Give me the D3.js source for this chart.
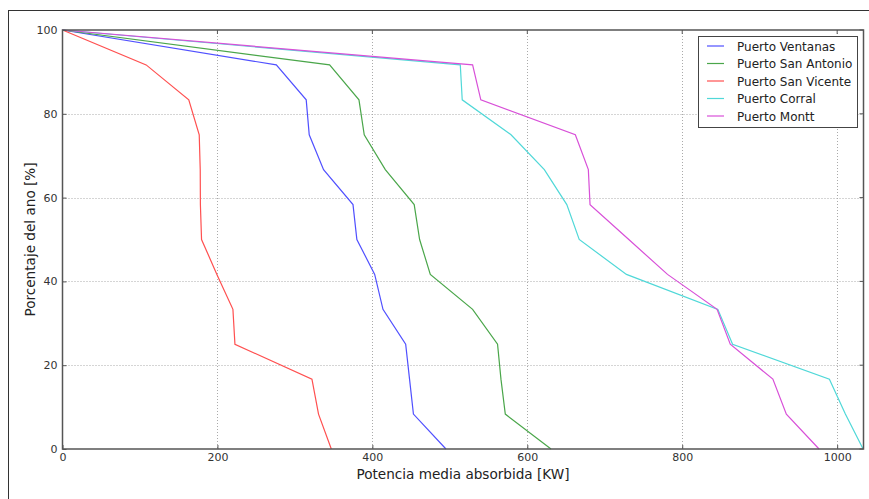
<!DOCTYPE html>
<html><head><meta charset="utf-8">
<script src="https://cdn.jsdelivr.net/npm/d3@7"></script>
<style>body{margin:0;background:#fff;}svg{display:block;font-family:"DejaVu Sans",sans-serif;}</style>
</head><body>
<svg id="chart" width="869" height="499"></svg>
<script>
const yLevels = [100, 91.67, 83.33, 75, 66.67, 58.33, 50, 41.67, 33.33, 25, 16.67, 8.33, 0];
const seriesNames = ["Puerto Ventanas", "Puerto San Antonio", "Puerto San Vicente", "Puerto Corral", "Puerto Montt"];
const ventanas   = [0, 276, 314.6, 318.5, 337, 375, 380, 403, 413.7, 443, 448, 453, 495];
const sanAntonio = [0, 344.8, 382.7, 389.5, 416.7, 454, 461, 474.8, 529.4, 561.6, 566, 571.6, 630.6];
const sanVicente = [0, 108, 163, 176.5, 177.8, 178, 179.5, 199.3, 220, 222.6, 322, 330.5, 347];
const corral     = [0, 513.5, 516, 579, 622, 651, 667, 728, 846, 865, 990, 1010.6, 1033.5];
const montt      = [0, 529.4, 540, 662, 678.8, 681, 731, 781, 845, 862, 917, 934.4, 976.6];
const seriesValues = [ventanas, sanAntonio, sanVicente, corral, montt];
const colors = ["#5050ff", "#4aa64a", "#ff5050", "#50d8d8", "#d850d8"];
const xTicks = [0, 200, 400, 600, 800, 1000];
const yTicks = [0, 20, 40, 60, 80, 100];

const svg = d3.select("#chart");
// outer frame
svg.append("rect").attr("x", 8.5).attr("y", 10.5).attr("width", 880).attr("height", 520)
  .attr("fill", "none").attr("stroke", "#333").attr("stroke-width", 1);

const L = 62.5, R = 863.5, T = 30, B = 449;
const x = d3.scaleLinear().domain([0, 1034]).range([L, R]);
const y = d3.scaleLinear().domain([0, 100]).range([B, T]);

// grid
const g = svg.append("g");
g.selectAll(".vg").data(xTicks.filter(d => d > 0)).enter().append("line")
  .attr("x1", d => Math.round(x(d)) + 0.5).attr("x2", d => Math.round(x(d)) + 0.5)
  .attr("y1", T).attr("y2", B).attr("stroke", "#aaa").attr("stroke-dasharray", "1,2");
g.selectAll(".hg").data(yTicks.filter(d => d > 0 && d < 100)).enter().append("line")
  .attr("y1", d => Math.round(y(d)) + 0.5).attr("y2", d => Math.round(y(d)) + 0.5)
  .attr("x1", L).attr("x2", R).attr("stroke", "#aaa").attr("stroke-dasharray", "1,2");

// lines
const line = d3.line().x(d => x(d[0])).y(d => y(d[1]));
seriesValues.forEach((vals, i) => {
  svg.append("path").datum(vals.map((v, k) => [v, yLevels[k]]))
    .attr("d", line).attr("fill", "none").attr("stroke", colors[i]).attr("stroke-width", 1.2);
});

// axes
const xAxis = d3.axisBottom(x).tickValues(xTicks).tickSize(-4).tickPadding(4).tickFormat(d3.format("d"));
const yAxis = d3.axisLeft(y).tickValues(yTicks).tickSize(-4).tickPadding(5).tickFormat(d3.format("d"));
const gx = svg.append("g").attr("transform", `translate(0,${B})`).call(xAxis);
const gy = svg.append("g").attr("transform", `translate(${L},0)`).call(yAxis);
[gx, gy].forEach(a => {
  a.select(".domain").remove();
  a.selectAll("line").attr("stroke", "#555");
  a.selectAll("text").attr("fill", "#333").style("font-size", "11px").style("font-family", "DejaVu Sans");
});
// right/top ticks
svg.selectAll(".rt").data(yTicks).enter().append("line")
  .attr("x1", R).attr("x2", R - 4).attr("y1", d => y(d)).attr("y2", d => y(d)).attr("stroke", "#555");
svg.selectAll(".tt").data(xTicks).enter().append("line")
  .attr("y1", T).attr("y2", T + 4).attr("x1", d => x(d)).attr("x2", d => x(d)).attr("stroke", "#555");
// axes frame
svg.append("rect").attr("x", L).attr("y", T).attr("width", R - L).attr("height", B - T)
  .attr("fill", "none").attr("stroke", "#555").attr("stroke-width", 1.5);

// labels
svg.append("text").attr("x", (L + R) / 2).attr("y", 479).attr("text-anchor", "middle")
  .style("font-size", "13.6px").attr("fill", "#222").text("Potencia media absorbida [KW]");
svg.append("text").attr("transform", `translate(35,${(T + B) / 2}) rotate(-90)`).attr("text-anchor", "middle")
  .style("font-size", "13.6px").attr("fill", "#222").text("Porcentaje del ano [%]");

// legend
const lg = svg.append("g");
lg.append("rect").attr("x", 698.5).attr("y", 36.5).attr("width", 159).attr("height", 91)
  .attr("fill", "#fff").attr("stroke", "#444").attr("stroke-width", 1);
seriesNames.forEach((n, i) => {
  const yy = 46 + i * 17.5;
  lg.append("line").attr("x1", 707).attr("x2", 724).attr("y1", yy).attr("y2", yy)
    .attr("stroke", colors[i]).attr("stroke-width", 1.2);
  lg.append("text").attr("x", 737).attr("y", yy + 4.5).style("font-size", "12px").attr("fill", "#222").text(n);
});
</script>
</body></html>
